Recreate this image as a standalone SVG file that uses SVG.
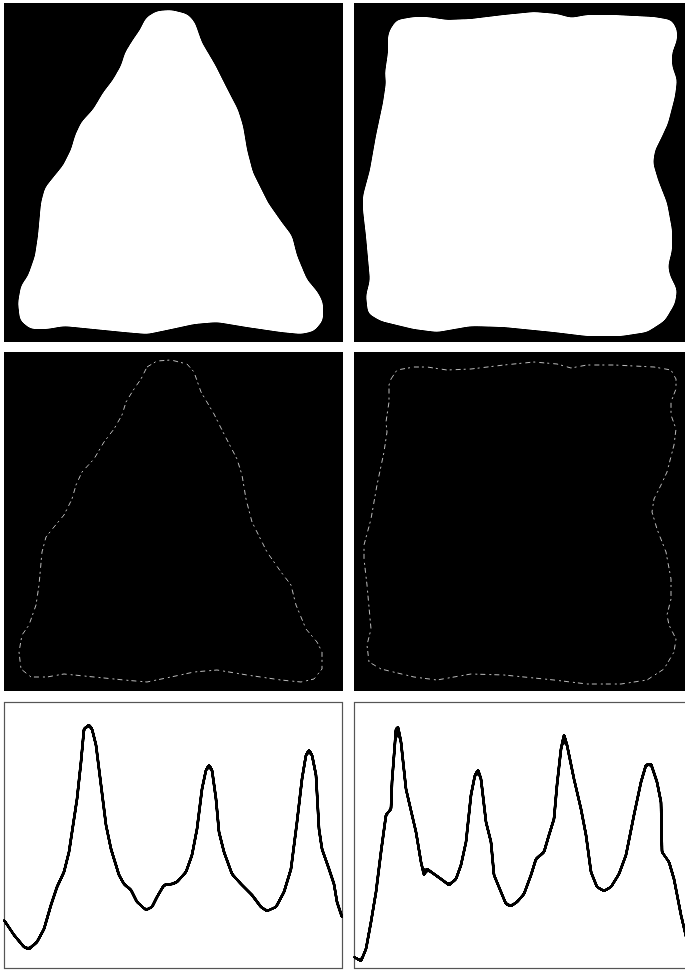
<svg xmlns="http://www.w3.org/2000/svg" width="685" height="970" viewBox="0 0 685 970">
<style>
.panel{fill:#000}
.blob{fill:#fff;stroke:#fff;stroke-width:2;stroke-linejoin:round}
.edge{fill:none;stroke:#bbb;stroke-width:1;stroke-dasharray:5 3 2 4;stroke-linejoin:round}
.frame{fill:#fff;stroke:#555;stroke-width:1.2}
.curve{fill:none;stroke:#000;stroke-width:3;stroke-linejoin:round;stroke-linecap:round}
</style>
<defs>
<filter id="smoothBlob" x="-5%" y="-5%" width="110%" height="110%">
<feGaussianBlur stdDeviation="3"/>
<feComponentTransfer><feFuncA type="linear" slope="12" intercept="-5.5"/></feComponentTransfer>
</filter>
<filter id="smoothLine" x="-5%" y="-5%" width="110%" height="110%">
<feGaussianBlur stdDeviation="1.2"/>
<feComponentTransfer><feFuncA type="linear" slope="8" intercept="-3.4"/></feComponentTransfer>
</filter>
<polygon id="tri" points="147,18 157,12 171,11 187,15 194,23 201,43 214,65 224,85 237,110 242,126 246,150 252,173 267,203 281,223 291,236 296,256 306,280 317,293 322,303 322,320 314,330 301,333 281,331 247,326 217,321 194,323 171,328 147,333 124,331 94,328 64,325 47,328 31,328 21,320 19,303 22,286 29,276 36,256 39,236 42,203 46,188 54,178 64,166 72,150 76,136 82,123 94,110 104,93 114,80 122,66 126,53 134,40 141,30"/>
<polygon id="sq" points="391,30 397,21 414,18 427,18 447,21 471,20 504,16 534,13 557,15 571,19 587,16 614,16 654,18 671,21 676,30 676,40 671,53 671,66 676,80 674,96 667,123 661,136 654,150 652,163 657,180 666,203 671,230 671,250 667,266 669,276 676,290 674,303 664,320 647,331 621,335 587,335 554,331 504,326 471,325 454,328 437,331 414,328 381,320 369,313 367,296 371,280 367,236 364,210 364,196 371,170 377,136 384,103 387,83 386,73 389,53 389,36"/>
</defs>
<rect width="685" height="970" fill="#fff"/>
<g id="mask-triangle">
<rect class="panel" x="4" y="3" width="339" height="339"/>
<use href="#tri" class="blob" filter="url(#smoothBlob)"/>
</g>
<g id="mask-square">
<rect class="panel" x="354" y="3" width="339" height="339"/>
<use href="#sq" class="blob" filter="url(#smoothBlob)"/>
</g>
<g id="edge-triangle">
<rect class="panel" x="4" y="352" width="339" height="339"/>
<use href="#tri" class="edge" transform="translate(0,349)"/>
</g>
<g id="edge-square">
<rect class="panel" x="354" y="352" width="339" height="339"/>
<use href="#sq" class="edge" transform="translate(0,349)"/>
</g>
<g id="signature-triangle">
<rect class="frame" x="4.5" y="702.5" width="338" height="266"/>
<polyline class="curve" filter="url(#smoothLine)" points="4,920 14,935 24,947 29,949 37,942 44,929 51,905 57,887 64,872 69,852 74,819 77,799 81,762 84,729 89,725 92,729 96,745 101,785 106,825 111,849 119,875 124,884 131,890 137,902 146,910 152,907 157,897 164,885 172,884 177,882 186,872 192,855 197,829 202,789 206,770 209,765 212,770 216,799 219,832 224,852 232,874 241,884 252,895 261,907 267,911 276,907 284,892 291,869 297,822 302,779 306,755 309,750 312,755 316,775 319,829 322,849 329,869 334,884 337,902 342,917"/>
</g>
<g id="signature-square">
<rect class="frame" x="354.5" y="702.5" width="338" height="266"/>
<polyline class="curve" filter="url(#smoothLine)" points="354,957 361,961 366,949 371,922 376,892 381,852 386,815 391,809 392,782 396,729 398,727 401,742 406,789 409,802 416,832 421,862 424,875 427,869 434,874 441,879 449,885 456,879 461,865 466,842 471,795 475,775 478,770 481,779 486,822 491,842 494,875 501,892 506,904 511,906 517,902 524,894 531,875 536,859 544,852 549,835 554,819 557,785 561,749 564,735 567,745 574,779 581,809 586,835 591,872 597,887 604,891 611,887 619,874 626,855 634,815 641,782 646,765 651,764 657,782 661,802 662,852 669,862 674,879 681,915 685,932 688,945"/>
</g>
</svg>
